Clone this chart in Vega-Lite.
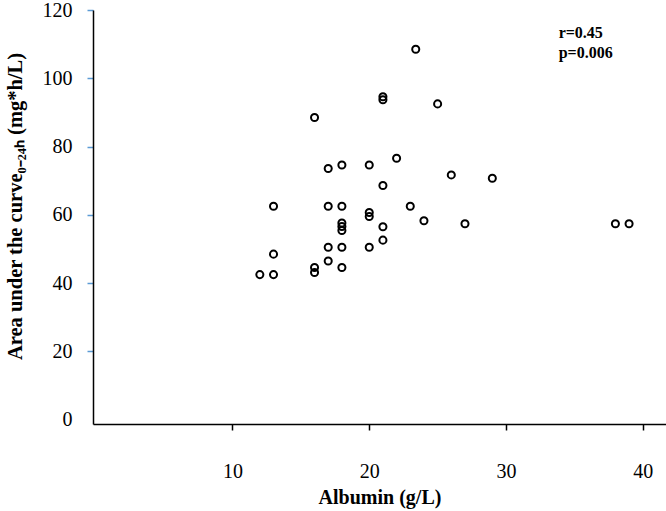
{
  "$schema": "https://vega.github.io/schema/vega-lite/v6.json",
  "width": 573,
  "height": 414,
  "autosize": "none",
  "padding": {"left": 93, "top": 10, "right": 0, "bottom": 87},
  "background": "white",
  "config": {"view": {"stroke": null}, "font": "Liberation Serif"},
  "layer": [
    {
      "data": {"values": [
        {"albumin": 12, "auc": 42.5},
        {"albumin": 13, "auc": 42.5},
        {"albumin": 13, "auc": 48.5},
        {"albumin": 13, "auc": 62.5},
        {"albumin": 16, "auc": 43.1},
        {"albumin": 16, "auc": 44.6},
        {"albumin": 16, "auc": 88.5},
        {"albumin": 17, "auc": 46.5},
        {"albumin": 17, "auc": 50.5},
        {"albumin": 17, "auc": 62.5},
        {"albumin": 17, "auc": 73.6},
        {"albumin": 18, "auc": 44.6},
        {"albumin": 18, "auc": 50.5},
        {"albumin": 18, "auc": 55.4},
        {"albumin": 18, "auc": 56.6},
        {"albumin": 18, "auc": 57.6},
        {"albumin": 18, "auc": 62.5},
        {"albumin": 18, "auc": 74.6},
        {"albumin": 20, "auc": 50.5},
        {"albumin": 20, "auc": 59.5},
        {"albumin": 20, "auc": 60.7},
        {"albumin": 20, "auc": 74.6},
        {"albumin": 21, "auc": 52.6},
        {"albumin": 21, "auc": 56.5},
        {"albumin": 21, "auc": 68.6},
        {"albumin": 21, "auc": 93.7},
        {"albumin": 21, "auc": 94.6},
        {"albumin": 22, "auc": 76.6},
        {"albumin": 23, "auc": 62.5},
        {"albumin": 23.4, "auc": 108.5},
        {"albumin": 24, "auc": 58.3},
        {"albumin": 25, "auc": 92.5},
        {"albumin": 26, "auc": 71.7},
        {"albumin": 27, "auc": 57.4},
        {"albumin": 29, "auc": 70.7},
        {"albumin": 38, "auc": 57.4},
        {"albumin": 39, "auc": 57.4}
      ]},
      "mark": {"type": "point", "shape": "circle", "filled": false, "stroke": "black", "strokeWidth": 2, "size": 50, "opacity": 1},
      "encoding": {
        "x": {
          "field": "albumin", "type": "quantitative",
          "scale": {"domain": [-0.2, 41.7], "nice": false, "zero": false},
          "axis": {
            "values": [10, 20, 30, 40],
            "grid": false,
            "domainColor": "black", "domainWidth": 1.5,
            "tickColor": "black", "tickWidth": 1.5, "tickSize": 6,
            "labelFontSize": 20, "labelColor": "black", "labelPadding": 31, "labelFont": "Liberation Serif",
            "title": "Albumin (g/L)", "titleFontSize": 20, "titleFontWeight": "bold", "titleColor": "black", "titlePadding": 6, "titleFont": "Liberation Serif"
          }
        },
        "y": {
          "field": "auc", "type": "quantitative",
          "scale": {"domain": [-1.25, 120], "nice": false, "zero": false},
          "axis": {
            "values": [0, 20, 40, 60, 80, 100, 120],
            "grid": false,
            "domainColor": "black", "domainWidth": 1.5,
            "tickColor": {"condition": {"test": "datum.value === 0", "value": "transparent"}, "value": "#5B9BD5"},
            "tickWidth": 1.5, "tickSize": 6,
            "labelFontSize": 20, "labelColor": "black", "labelPadding": 15, "labelFont": "Liberation Serif",
            "title": "Area under the curve₀₋₂₄ₕ (mg*h/L)", "titleFontSize": 20.5, "titleFontWeight": "bold", "titleColor": "black", "titleFont": "Liberation Serif",
            "titleAngle": -90, "titleAlign": "center", "titleBaseline": "middle", "titleX": -78, "titleY": 196
          }
        }
      }
    },
    {
      "data": {"values": [
        {"x": 33.85, "y": 113.35, "label": "r=0.45"},
        {"x": 33.85, "y": 107.3, "label": "p=0.006"}
      ]},
      "mark": {"type": "text", "align": "left", "baseline": "middle", "fontWeight": "bold", "fontSize": 16, "font": "Liberation Serif", "color": "black"},
      "encoding": {
        "x": {"field": "x", "type": "quantitative"},
        "y": {"field": "y", "type": "quantitative"},
        "text": {"field": "label"}
      }
    }
  ]
}
